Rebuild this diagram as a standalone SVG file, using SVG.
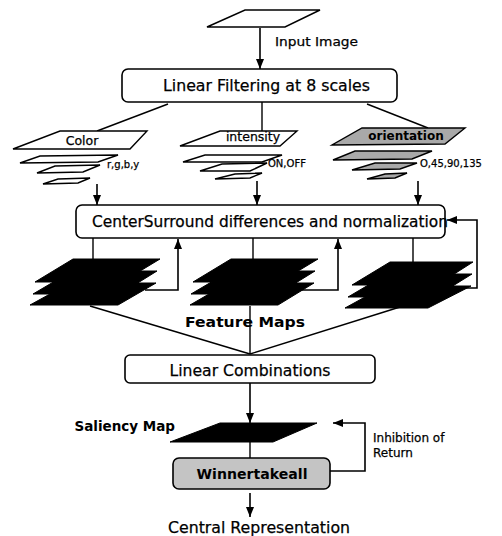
<svg xmlns="http://www.w3.org/2000/svg" width="502" height="536" viewBox="0 0 502 536">
<defs>
<marker id="ah" markerUnits="userSpaceOnUse" markerWidth="10" markerHeight="10" viewBox="0 0 10 10" refX="10" refY="5" orient="auto">
<path d="M0,1 L10,5 L0,9 Z" fill="#000"/>
</marker>
<style>
.ln{fill:none;stroke:#000;stroke-width:1.4}
.ar{fill:none;stroke:#000;stroke-width:1.6;marker-end:url(#ah)}
.box{fill:#fff;stroke:#000;stroke-width:1.6}
.pw{fill:#fff;stroke:#000;stroke-width:1.4}
.pg{fill:#a9a9a9;stroke:#000;stroke-width:1.4}
.pb{fill:#000;stroke:#000;stroke-width:1}
.t{font-family:"DejaVu Sans","Verdana",sans-serif;fill:#000;stroke:#000;stroke-width:0.25}
.tb{font-family:"DejaVu Sans","Verdana",sans-serif;font-weight:bold;fill:#000}
</style>
</defs>
<rect width="502" height="536" fill="#fff"/>

<g id="connectors">
<line class="ar" x1="260" y1="28" x2="260" y2="69"/>
<line class="ln" x1="168" y1="104" x2="97" y2="131"/>
<line class="ln" x1="262" y1="102" x2="262" y2="131"/>
<line class="ln" x1="367" y1="104" x2="428" y2="128"/>
<line class="ar" x1="97" y1="184" x2="97" y2="205"/>
<line class="ar" x1="257" y1="181" x2="257" y2="205"/>
<line class="ar" x1="418" y1="181" x2="418" y2="205"/>
<line class="ln" x1="93" y1="238" x2="93" y2="262"/>
<line class="ln" x1="253" y1="238" x2="253" y2="262"/>
<line class="ln" x1="413" y1="238" x2="413" y2="265"/>
<polyline class="ar" points="145,290 178,290 178,239"/>
<polyline class="ar" points="300,290 338,290 338,239"/>
<polyline class="ar" points="440,288 477,288 477,220 447,220"/>
<line class="ln" x1="90" y1="306" x2="250" y2="354"/>
<line class="ln" x1="400" y1="307" x2="250" y2="354"/>
<line class="ln" x1="250" y1="306" x2="250" y2="354"/>
<line class="ar" x1="250" y1="383" x2="250" y2="423"/>
<line class="ln" x1="250" y1="442" x2="250" y2="458"/>
<polyline class="ar" points="330,471 365,471 365,423 333,423"/>
<line class="ar" x1="250" y1="493" x2="250" y2="517"/>
</g>

<g id="input-image">
<polygon class="pw" points="245,10 320,10 285,27 207,27"/>
<text class="t" x="275" y="46" font-size="12.5" textLength="83" lengthAdjust="spacingAndGlyphs">Input Image</text>
</g>

<g id="linear-filtering">
<rect class="box" x="122" y="69" width="275" height="33" rx="6"/>
<text class="t" x="163" y="91" font-size="16" textLength="207" lengthAdjust="spacingAndGlyphs">Linear Filtering at 8 scales</text>
</g>

<g id="color">
<polygon class="pw" points="58,179 90,178 78,183 43,184"/>
<polygon class="pw" points="55,166 100,165 83,172 37,173"/>
<polygon class="pw" points="40,156 118,155 98,162 20,163"/>
<polygon class="pw" points="60,131 147,131 130,149 13,149"/>
<text class="t" x="82" y="145" font-size="12.5" text-anchor="middle">Color</text>
<text class="t" x="107" y="168" font-size="10">r,g,b,y</text>
</g>

<g id="intensity">
<polygon class="pw" points="235,174 262,173 250,178 215,179"/>
<polygon class="pw" points="222,164 267,163 250,171 200,171"/>
<polygon class="pw" points="205,155 282,155 262,162 183,162"/>
<polygon class="pw" points="220,131 297,131 280,146 180,146"/>
<text class="t" x="253" y="141" font-size="12.5" text-anchor="middle">intensity</text>
<text class="t" x="268" y="167" font-size="10">ON,OFF</text>
</g>

<g id="orientation">
<polygon class="pg" points="385,174 407,173 395,178 367,179"/>
<polygon class="pg" points="375,163 417,163 400,169 352,170"/>
<polygon class="pg" points="355,151 432,151 412,159 333,160"/>
<polygon class="pg" points="362,128 465,128 445,144 332,145"/>
<text class="tb" x="406" y="140" font-size="12" text-anchor="middle" fill="#111">orientation</text>
<text class="t" x="420" y="167" font-size="10">O,45,90,135</text>
</g>

<g id="center-surround">
<rect class="box" x="76" y="205" width="369" height="33" rx="6"/>
<text class="t" x="92" y="227" font-size="15.5" textLength="356" lengthAdjust="spacingAndGlyphs">CenterSurround differences and normalization</text>
</g>

<g id="feature-map-color">
<polygon class="pb" points="70,283 156,283 118,305 30,305"/>
<polygon class="pb" points="72,271 157,271 120,294 33,294"/>
<polygon class="pb" points="73,259 160,259 122,282 35,282"/>
</g>
<g id="feature-map-intensity">
<polygon class="pb" points="228,283 314,283 278,305 190,305"/>
<polygon class="pb" points="230,271 315,271 278,294 191,294"/>
<polygon class="pb" points="231,259 318,259 280,282 193,282"/>
</g>
<g id="feature-map-orientation">
<polygon class="pb" points="385,286 471,286 428,308 345,308"/>
<polygon class="pb" points="387,274 472,274 435,297 348,297"/>
<polygon class="pb" points="390,262 473,262 437,285 352,285"/>
</g>
<g id="feature-maps-label">
<text class="tb" x="185" y="327" font-size="13.5" textLength="120" lengthAdjust="spacingAndGlyphs">Feature  Maps</text>
</g>

<g id="linear-combinations">
<rect class="box" x="125" y="355" width="250" height="28" rx="5"/>
<text class="t" x="250" y="376" font-size="16" text-anchor="middle" textLength="161" lengthAdjust="spacingAndGlyphs">Linear Combinations</text>
</g>

<g id="saliency-map">
<polygon class="pb" points="220,423 317,423 273,442 170,442"/>
<text class="tb" x="175" y="431" font-size="13.5" text-anchor="end">Saliency Map</text>
</g>

<g id="winner-take-all">
<rect x="173" y="458" width="157" height="31" rx="6" fill="#c4c4c4" stroke="#000" stroke-width="1.6"/>
<text class="tb" x="252" y="479" font-size="14" text-anchor="middle" textLength="111" lengthAdjust="spacingAndGlyphs">Winnertakeall</text>
</g>

<g id="inhibition-label">
<text class="t" x="373" y="442" font-size="12">Inhibition of</text>
<text class="t" x="373" y="457" font-size="12">Return</text>
</g>

<g id="central-representation">
<text class="t" x="259" y="533" font-size="16" text-anchor="middle" textLength="182" lengthAdjust="spacingAndGlyphs">Central Representation</text>
</g>
</svg>
